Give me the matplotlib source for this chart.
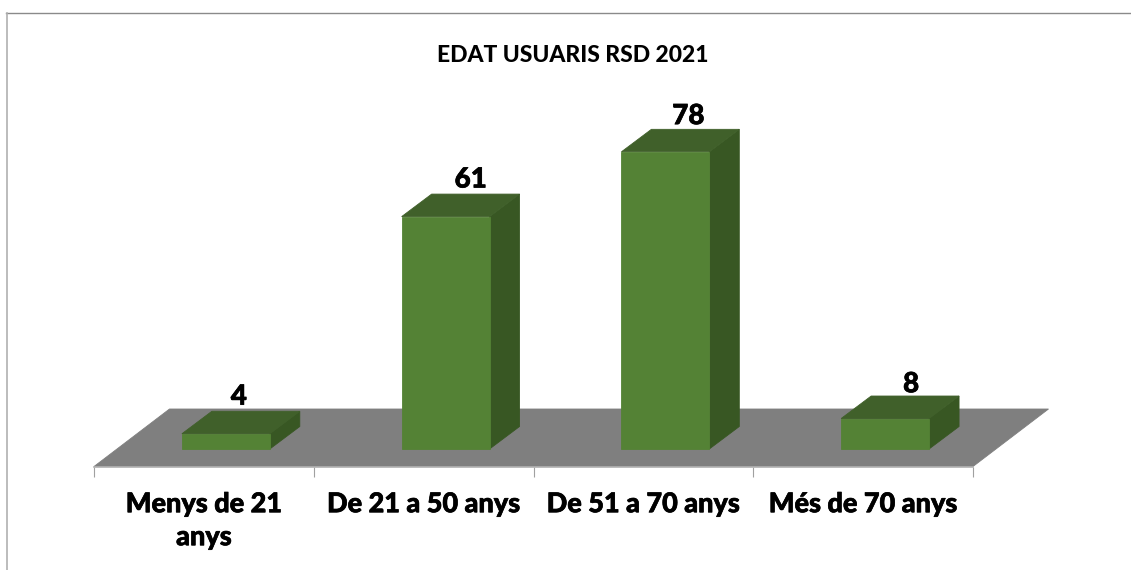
#!/bin/python

import matplotlib
matplotlib.use('Agg')
import matplotlib.pyplot as plt
import matplotlib.patheffects as pe
from matplotlib.lines import Line2D
from matplotlib.patches import Polygon

categories = ['Menys de 21\nanys', 'De 21 a 50 anys', 'De 51 a 70 anys', 'Més de 70 anys']
values = [4, 61, 78, 8]
title = 'EDAT USUARIS RSD 2021'

W, H = 1131, 570
PX_X = 219.75   # pixels per category
PX_Y = 3.81     # pixels per unit of value
FLOOR_DROP = 17.5 / PX_Y
DEPTH_X, DEPTH_Y = 30 / PX_X, 22.5 / PX_Y
FLOOR_X, FLOOR_Y = 75.5 / PX_X, 57.5 / PX_Y
BAR_LEFT, BAR_W = -0.1, 0.4

plt.rcParams['font.family'] = ['Lato', 'DejaVu Sans']
thick = [pe.withStroke(linewidth=0.5, foreground='black')]

fig = plt.figure(figsize=(W / 100, H / 100), dpi=100)
ax = fig.add_axes([94 / W, (H - 466.5) / H, 879 / W, 454.5 / H])
ax.set_xlim(-0.5, 3.5)
ax.set_ylim(-FLOOR_DROP, 437 / PX_Y)
ax.patch.set_visible(False)


def poly(pts, color, edge=None, z=2):
    ax.add_patch(Polygon(pts, closed=True, facecolor=color, edgecolor=edge or color,
                         linewidth=0.6, zorder=z, clip_on=False))


# floor
y0 = -FLOOR_DROP
poly([(-0.5, y0), (3.5, y0), (3.5 + FLOOR_X, y0 + FLOOR_Y), (-0.5 + FLOOR_X, y0 + FLOOR_Y)], '#7f7f7f', z=1)

# bars
label_dx = [-2, 10, 8, 11]
label_dy = [10.5, 10.5, 9.5, 8.5]
for i, v in enumerate(values):
    l = i + BAR_LEFT
    r = l + BAR_W
    poly([(r, 0), (r + DEPTH_X, DEPTH_Y), (r + DEPTH_X, v + DEPTH_Y), (r, v)], '#385723')
    poly([(l, v), (r, v), (r + DEPTH_X, v + DEPTH_Y), (l + DEPTH_X, v + DEPTH_Y)], '#40602a')
    poly([(l, 0), (r, 0), (r, v), (l, v)], '#548235')
    ax.annotate(str(v), ((l + r + DEPTH_X) / 2, v + DEPTH_Y), xytext=(label_dx[i] * 0.72, label_dy[i]),
                textcoords='offset points', ha='center', va='center',
                fontsize=20, fontweight='black', color='black', zorder=3, path_effects=thick)

for s in ['top', 'left', 'right']:
    ax.spines[s].set_visible(False)
ax.spines['bottom'].set_color('#b0b0b0')
ax.spines['bottom'].set_linewidth(1.2)
ax.set_yticks([])
ax.set_xticks(range(4))
ax.set_xticklabels(categories, fontsize=19.5, fontweight='black', linespacing=1.45, path_effects=thick)
ax.set_xticks([-0.5, 0.5, 1.5, 2.5, 3.5], minor=True)
ax.tick_params(axis='x', which='major', length=0, pad=18.5)
ax.tick_params(axis='x', which='minor', length=7.2, width=0.8, color='#a0a0a0')

fig.text(573 / W, 1 - 55 / H, title, ha='center', va='center', fontsize=16.5, fontweight='black', color='black')

# chart border
fig.add_artist(Line2D([6 / W, 1], [1 - 12.5 / H, 1 - 12.5 / H], color='#8a8a8a', linewidth=1))
fig.add_artist(Line2D([6.5 / W, 6.5 / W], [0, 1 - 12.5 / H], color='#b0b0b0', linewidth=1.2))

fig.savefig('out.png', dpi=100)
